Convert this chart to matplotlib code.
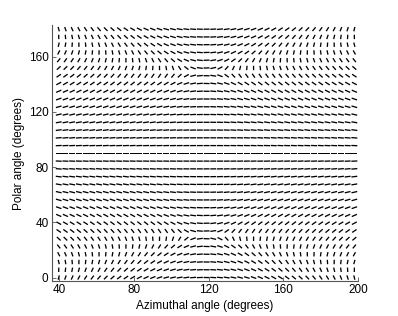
import numpy as np
import matplotlib
matplotlib.use("Agg")
import matplotlib.pyplot as plt

plt.rcParams['font.family'] = ['Liberation Sans', 'DejaVu Sans']

# sampling grid (degrees)
azimuth_deg = np.linspace(39.6, 198.0, 45)
polar_deg = np.linspace(0.0, 180.0, 33)

# +1/2 defects of the director field on the sphere (degrees)
defect_azimuth = [109.0, 127.0, 109.0, 127.0]
defect_polar = [31.0, 31.0, 149.0, 149.0]
defect_charge = [0.5, 0.5, 0.5, 0.5]

x_ticks = [40, 80, 120, 160, 200]
y_ticks = [0, 40, 80, 120, 160]


def director(az, pol):
    phi = np.radians(az)
    th = np.radians(np.clip(pol, 1e-4, 179.9999))
    w = np.tan(th / 2) * np.exp(1j * phi)
    psi = np.zeros(np.shape(w))
    for a, p, k in zip(defect_azimuth, defect_polar, defect_charge):
        wj = np.tan(np.radians(p) / 2) * np.exp(1j * np.radians(a))
        psi = psi + k * np.angle(w - wj)
    return psi - phi


AZ, PO = np.meshgrid(azimuth_deg, polar_deg)
rel = director(AZ, PO)
ref = director(np.array(118.0), np.array(90.0))
rel = rel - ref + np.pi / 2
n_theta = np.cos(rel)
n_phi = np.sin(rel)

L = 3.2
u = L * n_phi
v = -L * n_theta

fig = plt.figure(figsize=(3.98, 3.16), dpi=100)
ax = fig.add_axes([0.1307, 0.1108, 0.769, 0.81])
ax.quiver(AZ, PO, u, v, angles='xy', scale_units='xy', scale=1, pivot='middle',
          headwidth=0, headlength=0, headaxislength=0, width=1.3, units='dots',
          color='black')
ax.set_xlim(36, 200)
ax.set_ylim(-2.5, 183)
ax.set_xticks(x_ticks)
ax.set_yticks(y_ticks)
for s in ['top', 'right']:
    ax.spines[s].set_visible(False)
for s in ['left', 'bottom']:
    ax.spines[s].set_color('#555555')
    ax.spines[s].set_linewidth(0.8)
ax.tick_params(direction='in', length=3, width=0.6, color='#555555',
               labelsize=8.5, labelcolor='black', pad=2.5)
ax.set_xlabel('Azimuthal angle (degrees)', fontsize=8.5, labelpad=2.5)
ax.set_ylabel('Polar angle (degrees)', fontsize=8.5, labelpad=3)
fig.savefig('out.png', dpi=100)
